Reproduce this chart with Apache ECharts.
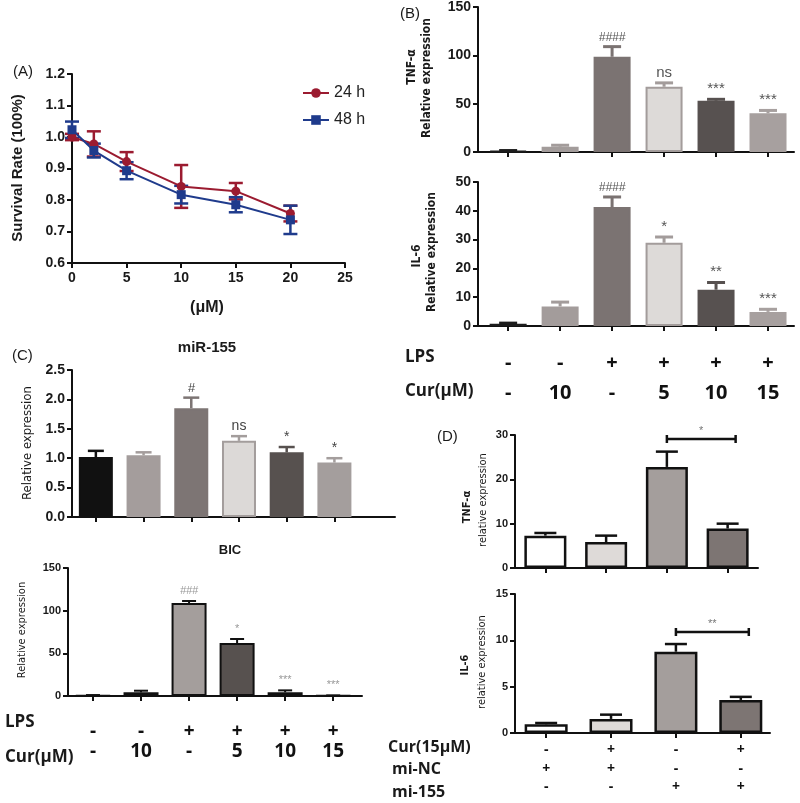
<!DOCTYPE html>
<html>
<head>
<meta charset="utf-8">
<script src="https://cdn.jsdelivr.net/npm/echarts@6/dist/echarts.min.js"></script>
<style>
html, body { margin: 0; padding: 0; background: #fff; }
#main { width: 800px; height: 803px; }
</style>
</head>
<body>
<div id="main"></div>
<script>
// ---- data ----
// (A) survival rate
var doseA = [0, 2, 5, 10, 15, 20];
var rate24 = [1.00, 0.978, 0.922, 0.843, 0.828, 0.757];
var err24 = [0.01, 0.04, 0.03, 0.068, 0.026, 0.025];
var rate48 = [1.023, 0.957, 0.893, 0.817, 0.785, 0.737];
var err48 = [0.026, 0.022, 0.027, 0.028, 0.024, 0.045];
var legendA = ['24 h', '48 h'];

// (B) TNF-α / IL-6
var tnfB = [1, 5.5, 98.5, 67.5, 53, 40];
var tnfBErr = [0.5, 1.5, 10.5, 4, 1.5, 3];
var tnfBSig = ['', '', '####', 'ns', '***', '***'];
var il6B = [0.8, 6.8, 41.3, 28.9, 12.6, 4.9];
var il6BErr = [0.2, 1.5, 3.5, 2, 2.5, 0.9];
var il6BSig = ['', '', '####', '*', '**', '***'];

// shared treatment rows for (B) and (C)
var lpsRow = ['-', '-', '+', '+', '+', '+'];
var curRow = ['-', '10', '-', '5', '10', '15'];

// (C) miR-155 / BIC
var mir155 = [1.02, 1.05, 1.85, 1.295, 1.10, 0.926];
var mir155Err = [0.105, 0.05, 0.18, 0.08, 0.09, 0.074];
var mir155Sig = ['', '', '#', 'ns', '*', '*'];
var bic = [0.8, 4.3, 109, 62, 4.3, 0.5];
var bicErr = [0.3, 1.9, 2.3, 4.8, 2.3, 0.2];
var bicSig = ['', '', '###', '*', '***', '***'];

// (D) TNF-α / IL-6 with mimics
var tnfD = [7.3, 5.85, 22.8, 8.9];
var tnfDErr = [0.6, 1.45, 3.45, 1.1];
var tnfDBracket = [2, 3, 29.1];
var tnfDBracketSig = '*';
var il6D = [0.94, 1.52, 8.77, 3.57];
var il6DErr = [0.14, 0.46, 0.83, 0.33];
var il6DBracket = [2, 3, 10.9];
var il6DBracketSig = '**';
var curD = ['-', '+', '-', '+'];
var miNC = ['+', '+', '-', '-'];
var mi155 = ['-', '-', '+', '+'];

// ---- styling ----
var AX = 'Liberation Sans, Arial, sans-serif';
var NARROW = '"Liberation Sans Narrow", "DejaVu Sans Condensed", "Liberation Sans", sans-serif';
var ROW = '"Open Sans", "Noto Sans", sans-serif';

var fillB = ['#1c1c1c', '#a39c9b', '#7b7372', '#dddad8', '#575150', '#a7a09f'];
var edgeB = ['#1c1c1c', '#a39c9b', '#7b7372', '#a39c9b', '#575150', '#a7a09f'];
var fillC = ['#111111', '#a49d9c', '#7d7574', '#dcd9d7', '#57514f', '#a49e9d'];
var edgeC = ['#111111', '#a49d9c', '#7d7574', '#a39d9c', '#57514f', '#a49e9d'];
var fillBic = ['#eeeeee', '#d6d2d0', '#a49e9c', '#57514f', '#57514f', '#57514f'];
var fillD = ['#ffffff', '#dedad8', '#a49e9c', '#7d7573'];

function barX(gi, min, max, n, labels) {
    var ticks = [];
    for (var i = 0; i < n; i++) ticks.push(i);
    var ax = {
        gridIndex: gi, type: 'value', min: min, max: max,
        splitLine: { show: false },
        axisLine: { onZero: false, lineStyle: { color: '#111', width: 2 } },
        axisTick: { customValues: ticks, length: 5, lineStyle: { color: '#111', width: 2 } },
        axisLabel: { show: false }
    };
    if (labels) {
        ax.axisLabel = {
            show: true, customValues: ticks, margin: labels.margin,
            formatter: function (v) {
                var k = Math.round(v);
                return labels.rows.map(function (r) { return '{s|' + r[k] + '}'; }).join('\n');
            },
            rich: { s: { fontSize: labels.size, fontWeight: 'bold', fontFamily: ROW, color: '#111', lineHeight: labels.lh } }
        };
    }
    return ax;
}

function valY(gi, min, max, interval, size, fmt) {
    return {
        gridIndex: gi, type: 'value', min: min, max: max, interval: interval,
        splitLine: { show: false },
        axisLine: { show: true, onZero: false, lineStyle: { color: '#111', width: 2 } },
        axisTick: { show: true, length: 5, lineStyle: { color: '#111', width: 2 } },
        axisLabel: { fontFamily: AX, fontWeight: 'bold', fontSize: size, color: '#1a1a1a', margin: 7, formatter: fmt }
    };
}

function bars(gi, vals, fills, edges, w, bw) {
    return {
        type: 'bar', xAxisIndex: gi, yAxisIndex: gi, barWidth: w, z: 2,
        data: vals.map(function (v, i) {
            return { value: [i, v], itemStyle: { color: fills[i], borderColor: edges[i], borderWidth: bw } };
        })
    };
}

// error bars (+ significance marks) drawn through the axes
function errBars(gi, xs, vals, errs, o) {
    return {
        type: 'custom', xAxisIndex: gi, yAxisIndex: gi, z: o.z || 3, silent: true,
        data: vals.map(function (v, i) { return [xs[i], v, errs[i]]; }),
        renderItem: function (params, api) {
            var x = api.value(0), v = api.value(1), e = api.value(2);
            var top = api.coord([x, v + e]);
            var bot = api.coord([x, o.both ? v - e : v]);
            var col = Array.isArray(o.color) ? o.color[params.dataIndex] : o.color;
            var ls = { stroke: col, lineWidth: o.lw };
            var h = o.cap / 2;
            var ch = [
                { type: 'line', shape: { x1: top[0], y1: top[1], x2: bot[0], y2: bot[1] }, style: ls },
                { type: 'line', shape: { x1: top[0] - h, y1: top[1], x2: top[0] + h, y2: top[1] }, style: ls }
            ];
            if (o.both) ch.push({ type: 'line', shape: { x1: bot[0] - h, y1: bot[1], x2: bot[0] + h, y2: bot[1] }, style: ls });
            var s = o.sig && o.sig[params.dataIndex];
            if (s) {
                ch.push({ type: 'text', x: top[0], y: top[1] - o.gap, style: {
                    text: s, align: 'center', verticalAlign: 'bottom',
                    fontSize: s.charAt(0) === '#' ? o.hashSize : o.sigSize,
                    fontStyle: s.charAt(0) === '#' ? 'italic' : 'normal',
                    fontFamily: AX, fill: o.sigColor
                } });
            }
            return { type: 'group', children: ch };
        }
    };
}

function bracket(gi, b, sig) {
    return {
        type: 'custom', xAxisIndex: gi, yAxisIndex: gi, z: 4, silent: true,
        data: [b],
        renderItem: function (params, api) {
            var a = api.coord([api.value(0), api.value(2)]);
            var c = api.coord([api.value(1), api.value(2)]);
            var ls = { stroke: '#111', lineWidth: 2.5 };
            return { type: 'group', children: [
                { type: 'line', shape: { x1: a[0], y1: a[1], x2: c[0] + 8, y2: c[1] }, style: ls },
                { type: 'line', shape: { x1: a[0], y1: a[1] - 4, x2: a[0], y2: a[1] + 4 }, style: ls },
                { type: 'line', shape: { x1: c[0] + 8, y1: c[1] - 4, x2: c[0] + 8, y2: c[1] + 4 }, style: ls },
                { type: 'text', x: (a[0] + c[0] + 8) / 2, y: a[1] - 3, style: { text: sig, align: 'center', verticalAlign: 'bottom', fontSize: 11, fontFamily: AX, fill: '#777' } }
            ] };
        }
    };
}

function txt(s, x, y, size, weight, extra) {
    extra = extra || {};
    return {
        type: 'text', x: x, y: y, rotation: extra.rot ? Math.PI / 2 : 0, z: 10,
        style: {
            text: s, fontSize: size, fontWeight: weight, fontFamily: extra.font || AX,
            fill: extra.color || '#1a1a1a', align: extra.align || (extra.rot ? 'center' : 'left'),
            verticalAlign: 'middle'
        }
    };
}

var chart = echarts.init(document.getElementById('main'));

var option = {
    backgroundColor: '#fff',
    animation: false,
    grid: [
        { left: 72, top: 74, width: 273, height: 189 },   // A
        { left: 478, top: 7, width: 316, height: 145 },   // B TNF
        { left: 478, top: 182, width: 316, height: 144 }, // B IL-6
        { left: 72, top: 370, width: 323, height: 147 },  // C miR-155
        { left: 68, top: 568, width: 294, height: 128 },  // C BIC
        { left: 515, top: 435, width: 243, height: 133 }, // D TNF
        { left: 515, top: 594, width: 255, height: 139 }  // D IL-6
    ],
    legend: {
        data: legendA, orient: 'vertical', left: 297, top: 80,
        itemWidth: 26, itemHeight: 12, itemGap: 11,
        textStyle: { fontFamily: AX, fontSize: 16, color: '#222' }
    },
    xAxis: [
        {
            gridIndex: 0, type: 'value', min: 0, max: 25, interval: 5,
            splitLine: { show: false },
            axisLine: { onZero: false, lineStyle: { color: '#111', width: 2 } },
            axisTick: { length: 5, lineStyle: { color: '#111', width: 2 } },
            axisLabel: { fontFamily: AX, fontWeight: 'bold', fontSize: 14, color: '#1a1a1a', margin: 8 }
        },
        barX(1, -0.58, 5.5, 6),
        barX(2, -0.58, 5.5, 6, { rows: [lpsRow, curRow], size: 20, lh: 30, margin: 22 }),
        barX(3, -0.5, 6.27, 6),
        barX(4, -0.52, 5.6, 6, { rows: [lpsRow, curRow], size: 19, lh: 20, margin: 26 }),
        barX(5, -0.5, 3.5, 4),
        barX(6, -0.48, 3.45, 4, { rows: [curD, miNC, mi155], size: 14, lh: 18.5, margin: 8 })
    ],
    yAxis: [
        valY(0, 0.6, 1.2, 0.1, 14, function (v) { return v.toFixed(1); }),
        valY(1, 0, 150, 50, 14),
        valY(2, 0, 50, 10, 14),
        valY(3, 0, 2.5, 0.5, 14, function (v) { return v.toFixed(1); }),
        valY(4, 0, 150, 50, 11),
        valY(5, 0, 30, 10, 11),
        valY(6, 0, 15, 5, 11)
    ],
    series: [
        errBars(0, doseA, rate24, err24, { both: true, color: '#9b1b30', lw: 2.5, cap: 14, z: 1 }),
        errBars(0, doseA, rate48, err48, { both: true, color: '#1f3b8c', lw: 2.5, cap: 14, z: 1 }),
        {
            name: legendA[0], type: 'line', xAxisIndex: 0, yAxisIndex: 0, z: 4,
            data: doseA.map(function (d, i) { return [d, rate24[i]]; }),
            symbol: 'circle', symbolSize: 9,
            lineStyle: { color: '#9b1b30', width: 2 }, itemStyle: { color: '#9b1b30' }
        },
        {
            name: legendA[1], type: 'line', xAxisIndex: 0, yAxisIndex: 0, z: 4,
            data: doseA.map(function (d, i) { return [d, rate48[i]]; }),
            symbol: 'rect', symbolSize: 9,
            lineStyle: { color: '#1f3b8c', width: 2 }, itemStyle: { color: '#1f3b8c' }
        },

        bars(1, tnfB, fillB, edgeB, 37, 2),
        errBars(1, [0, 1, 2, 3, 4, 5], tnfB, tnfBErr, { color: edgeB, lw: 3, cap: 18, sig: tnfBSig, gap: 3, sigSize: 15, hashSize: 12, sigColor: '#555' }),
        bars(2, il6B, fillB, edgeB, 37, 2),
        errBars(2, [0, 1, 2, 3, 4, 5], il6B, il6BErr, { color: edgeB, lw: 3, cap: 18, sig: il6BSig, gap: 3, sigSize: 15, hashSize: 12, sigColor: '#555' }),

        bars(3, mir155, fillC, edgeC, 34, 2),
        errBars(3, [0, 1, 2, 3, 4, 5], mir155, mir155Err, { color: edgeC, lw: 2.5, cap: 16, sig: mir155Sig, gap: 3, sigSize: 14, hashSize: 13, sigColor: '#444' }),
        bars(4, bic, fillBic, ['#111', '#111', '#111', '#111', '#111', '#111'], 35, 2),
        errBars(4, [0, 1, 2, 3, 4, 5], bic, bicErr, { color: '#111', lw: 2, cap: 14, sig: bicSig, gap: 5, sigSize: 11, hashSize: 11, sigColor: '#999' }),

        bars(5, tnfD, fillD, ['#111', '#111', '#111', '#111'], 42, 2.5),
        errBars(5, [0, 1, 2, 3], tnfD, tnfDErr, { color: '#111', lw: 2.5, cap: 22 }),
        bracket(5, tnfDBracket, tnfDBracketSig),
        bars(6, il6D, fillD, ['#111', '#111', '#111', '#111'], 43, 2.5),
        errBars(6, [0, 1, 2, 3], il6D, il6DErr, { color: '#111', lw: 2.5, cap: 22 }),
        bracket(6, il6DBracket, il6DBracketSig)
    ],
    graphic: [
        // (A)
        txt('(A)', 13, 72, 15, 'normal'),
        txt('Survival Rate (100%)', 18, 168, 15, 'bold', { rot: true }),
        txt('(μM)', 207, 308, 16, 'bold', { align: 'center' }),
        // (B)
        txt('(B)', 400, 14, 15, 'normal'),
        txt('TNF-α', 412, 67, 12, 'bold', { rot: true, font: NARROW }),
        txt('Relative expression', 427, 78, 12, 'bold', { rot: true, font: NARROW }),
        txt('IL-6', 417, 256, 12, 'bold', { rot: true, font: NARROW }),
        txt('Relative expression', 432, 252, 12, 'bold', { rot: true, font: NARROW }),
        txt('LPS', 405, 357, 17, 'bold', { font: ROW }),
        txt('Cur(μM)', 405, 391, 17, 'bold', { font: ROW }),
        // (C)
        txt('(C)', 12, 356, 15, 'normal'),
        txt('miR-155', 207, 348, 15, 'bold', { align: 'center' }),
        txt('Relative expression', 28, 443, 13, 'normal', { rot: true, font: NARROW }),
        txt('BIC', 230, 550, 13, 'bold', { align: 'center' }),
        txt('Relative expression', 22, 630, 11, 'normal', { rot: true, font: NARROW }),
        txt('LPS', 5, 722, 17, 'bold', { font: ROW }),
        txt('Cur(μM)', 5, 757, 17, 'bold', { font: ROW }),
        // (D)
        txt('(D)', 437, 437, 15, 'normal'),
        txt('TNF-α', 467, 507, 11, 'bold', { rot: true, font: NARROW }),
        txt('relative expression', 483, 500, 11, 'normal', { rot: true, font: NARROW }),
        txt('IL-6', 465, 665, 11, 'bold', { rot: true, font: NARROW }),
        txt('relative expression', 482, 662, 11, 'normal', { rot: true, font: NARROW }),
        txt('Cur(15μM)', 388, 747, 16, 'bold', { font: ROW }),
        txt('mi-NC', 392, 769, 16, 'bold', { font: ROW }),
        txt('mi-155', 392, 792, 16, 'bold', { font: ROW })
    ]
};

chart.setOption(option);
</script>
</body>
</html>
